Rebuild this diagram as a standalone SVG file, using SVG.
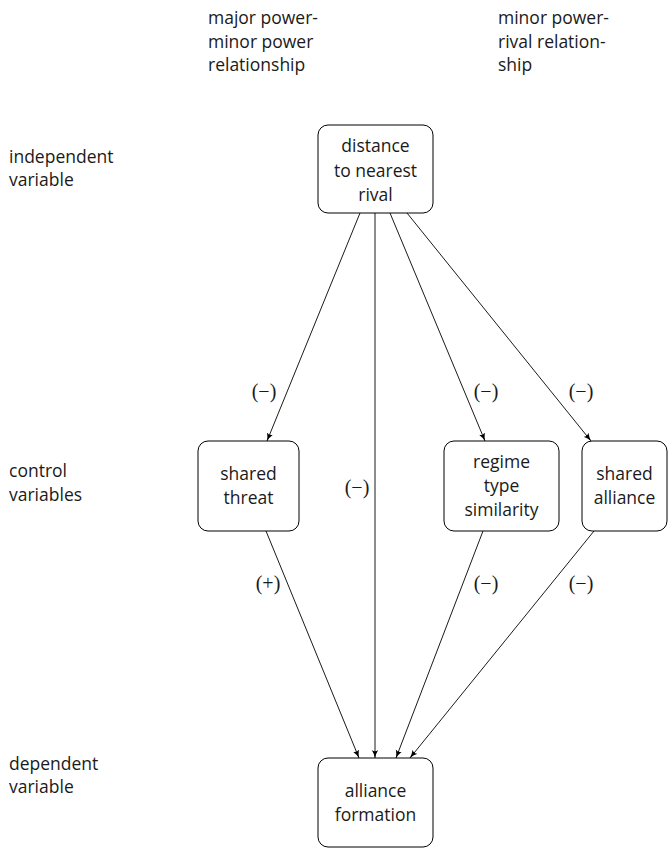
<svg xmlns="http://www.w3.org/2000/svg" width="668" height="850" viewBox="0 0 668 850">
<defs>
<style>
text{font-family:"Open Sans","DejaVu Sans",sans-serif;font-size:17.5px;fill:#1a1a1a}
.c{text-anchor:middle}
.l{font-family:"Liberation Serif","DejaVu Serif",serif;font-size:20px}
.box{fill:#fff;stroke:#000;stroke-width:1}
.e{stroke:#000;stroke-width:0.9;fill:none;marker-end:url(#ah)}
</style>
<marker id="ah" viewBox="0 0 10 10" refX="10" refY="5" markerWidth="8" markerHeight="8" markerUnits="userSpaceOnUse" orient="auto">
<path d="M0,1 Q5,4 10,5 Q5,6 0,9 Q3,5 0,1Z" fill="#000"/>
</marker>
</defs>
<rect width="668" height="850" fill="#fff"/>
<g id="headers">
<text x="208" y="24">major power-</text>
<text x="208" y="48">minor power</text>
<text x="208" y="71">relationship</text>
<text x="498" y="24">minor power-</text>
<text x="498" y="48">rival relation-</text>
<text x="498" y="71">ship</text>
<text x="9" y="163">independent</text>
<text x="9" y="186">variable</text>
<text x="9" y="477">control</text>
<text x="9" y="501">variables</text>
<text x="9" y="770">dependent</text>
<text x="9" y="793">variable</text>
</g>
<g id="connectors">
<line class="e" x1="360" y1="213" x2="267" y2="441"/>
<line class="e" x1="375" y1="213" x2="375" y2="758"/>
<line class="e" x1="390" y1="213" x2="485" y2="441"/>
<line class="e" x1="407" y1="213" x2="591" y2="441"/>
<line class="e" x1="266" y1="531" x2="359" y2="758"/>
<line class="e" x1="483" y1="531" x2="396" y2="758"/>
<line class="e" x1="594" y1="531" x2="410" y2="758"/>
</g>
<g id="edge-labels">
<text class="c l" x="264" y="398">(−)</text>
<text class="c l" x="486" y="398">(−)</text>
<text class="c l" x="581" y="398">(−)</text>
<text class="c l" x="357" y="494">(−)</text>
<text class="c l" x="268" y="590">(+)</text>
<text class="c l" x="486" y="590">(−)</text>
<text class="c l" x="581" y="590">(−)</text>
</g>
<g id="n-distance">
<rect class="box" x="318" y="125" width="115" height="88" rx="10"/>
<text class="c" x="375.5" y="152">distance</text>
<text class="c" x="375.5" y="177">to nearest</text>
<text class="c" x="375.5" y="201">rival</text>
</g>
<g id="n-threat">
<rect class="box" x="198" y="441" width="101" height="90" rx="10"/>
<text class="c" x="248.5" y="480">shared</text>
<text class="c" x="248.5" y="504">threat</text>
</g>
<g id="n-regime">
<rect class="box" x="444" y="441" width="115" height="90" rx="10"/>
<text class="c" x="501.5" y="468">regime</text>
<text class="c" x="501.5" y="492">type</text>
<text class="c" x="501.5" y="516">similarity</text>
</g>
<g id="n-alliance">
<rect class="box" x="582" y="441" width="85" height="90" rx="10"/>
<text class="c" x="624.5" y="480">shared</text>
<text class="c" x="624.5" y="504">alliance</text>
</g>
<g id="n-formation">
<rect class="box" x="318" y="758" width="115" height="89" rx="10"/>
<text class="c" x="375.5" y="797">alliance</text>
<text class="c" x="375.5" y="821">formation</text>
</g>
</svg>
